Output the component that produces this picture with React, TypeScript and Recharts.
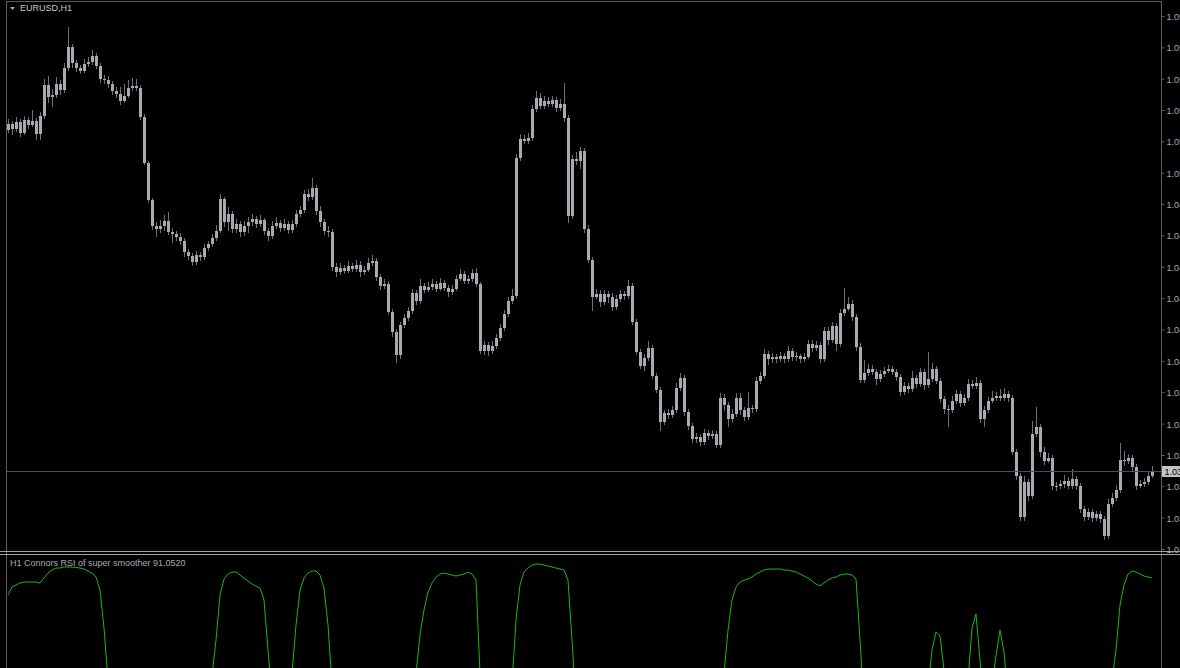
import React from "react";
import { ComposedChart, Bar, Line, XAxis, YAxis } from "recharts";

const SYMBOL = "EURUSD,H1";
const INDICATOR_NAME = "H1 Connors RSI of super smoother 91.0520";

// H1 candles, oldest first
const open = [
  1.05305, 1.05335, 1.0531, 1.05345, 1.0529, 1.05355, 1.0533, 1.0535, 1.05285, 1.05375,
  1.0553, 1.0547, 1.0548, 1.05535, 1.05505, 1.05615, 1.0572, 1.0564, 1.05615, 1.056,
  1.05635, 1.05645, 1.05675, 1.05625, 1.0556, 1.05555, 1.05535, 1.055, 1.05485, 1.0545,
  1.05475, 1.05515, 1.05525, 1.05515, 1.0537, 1.0514, 1.04955, 1.04825, 1.0481, 1.04825,
  1.0485, 1.04795, 1.04785, 1.0477, 1.0475, 1.04695, 1.04675, 1.04645, 1.0468, 1.0467,
  1.04715, 1.04735, 1.04765, 1.048, 1.0496, 1.04845, 1.04885, 1.0481, 1.04835, 1.04795,
  1.04825, 1.04845, 1.0486, 1.04835, 1.04855, 1.048, 1.04775, 1.04825, 1.0484, 1.04815,
  1.04835, 1.04805, 1.04835, 1.04885, 1.04905, 1.04985, 1.0497, 1.05015, 1.049, 1.04845,
  1.048, 1.04795, 1.0462, 1.04595, 1.04615, 1.046, 1.04625, 1.0461, 1.0463, 1.04595,
  1.04605, 1.0464, 1.0465, 1.0457, 1.04525, 1.04535, 1.04395, 1.04295, 1.0418, 1.0433,
  1.04365, 1.044, 1.0449, 1.0445, 1.04525, 1.04505, 1.0452, 1.04535, 1.0451, 1.0454,
  1.04515, 1.04495, 1.0451, 1.0456, 1.04585, 1.0455, 1.0456, 1.0459, 1.04535, 1.042,
  1.0423, 1.042, 1.04225, 1.04265, 1.04315, 1.04385, 1.0445, 1.04475, 1.05165, 1.0526,
  1.0525, 1.05265, 1.0541, 1.05465, 1.05425, 1.0545, 1.05435, 1.05455, 1.05415, 1.05435,
  1.05365, 1.04875, 1.0516, 1.0515, 1.052, 1.0481, 1.04655, 1.0447, 1.04485, 1.04445,
  1.04485, 1.0447, 1.0442, 1.0446, 1.04485, 1.04475, 1.04525, 1.04345, 1.04195, 1.04125,
  1.04165, 1.04215, 1.04075, 1.04005, 1.03845, 1.0389, 1.0388, 1.03905, 1.04015, 1.04065,
  1.03895, 1.03825, 1.0376, 1.0377, 1.03745, 1.0379, 1.03775, 1.03785, 1.0373, 1.03965,
  1.0393, 1.0386, 1.03885, 1.03965, 1.03905, 1.0387, 1.03915, 1.0391, 1.0405, 1.04075,
  1.04185, 1.0416, 1.0417, 1.0416, 1.04175, 1.0416, 1.042, 1.0417, 1.04175, 1.0416,
  1.0417, 1.04235, 1.04215, 1.0423, 1.0416, 1.043, 1.04255, 1.04325, 1.04235, 1.0439,
  1.0441, 1.04435, 1.0437, 1.0422, 1.04055, 1.0409, 1.0411, 1.04095, 1.0406, 1.04085,
  1.041, 1.0411, 1.04095, 1.0407, 1.03995, 1.04025, 1.0401, 1.04065, 1.04035, 1.04095,
  1.0403, 1.0406, 1.0411, 1.0405, 1.0396, 1.0391, 1.03905, 1.0395, 1.03985, 1.0394,
  1.03965, 1.04035, 1.04025, 1.0404, 1.0386, 1.03905, 1.0395, 1.03965, 1.03975, 1.03965,
  1.03985, 1.03965, 1.03695, 1.03575, 1.0337, 1.03545, 1.03475, 1.03785, 1.0382, 1.03695,
  1.0365, 1.03665, 1.03525, 1.03525, 1.03535, 1.0355, 1.03525, 1.0356, 1.03525, 1.0341,
  1.0337, 1.03395, 1.03365, 1.03385, 1.0336, 1.03275, 1.03435, 1.03465, 1.03505, 1.03655,
  1.0365, 1.03665, 1.0362, 1.03525, 1.03535, 1.03545, 1.03575,
];
const high = [
  1.0536, 1.0535, 1.0537, 1.0536, 1.05375, 1.0537, 1.05405, 1.05365, 1.05395, 1.0556,
  1.05575, 1.0551, 1.0557, 1.05555, 1.0564, 1.0582, 1.05735, 1.05655, 1.0563, 1.0566,
  1.0567, 1.05705, 1.0569, 1.0564, 1.0558, 1.05575, 1.0555, 1.0552, 1.0552, 1.05535,
  1.05555, 1.05565, 1.0556, 1.0553, 1.05385, 1.0515, 1.04965, 1.04845, 1.04855, 1.0488,
  1.04895, 1.04815, 1.048, 1.0479, 1.04765, 1.0471, 1.0469, 1.047, 1.04695, 1.04735,
  1.0475, 1.04785, 1.0483, 1.04985, 1.0497, 1.0492, 1.049, 1.0486, 1.0485, 1.0485,
  1.0487, 1.04885, 1.04875, 1.0488, 1.04865, 1.04815, 1.0485, 1.0487, 1.04855, 1.0486,
  1.0485, 1.04855, 1.04905, 1.04925, 1.05005, 1.0501, 1.05065, 1.0503, 1.04925, 1.0486,
  1.04825, 1.0481, 1.0464, 1.0464, 1.0463, 1.0465, 1.0464, 1.04655, 1.0465, 1.04625,
  1.04665, 1.0468, 1.04665, 1.04585, 1.0456, 1.0455, 1.0441, 1.0431, 1.04345, 1.04385,
  1.0442, 1.0451, 1.04505, 1.0456, 1.0454, 1.04545, 1.0456, 1.0455, 1.04565, 1.04555,
  1.0453, 1.0453, 1.0458, 1.0461, 1.046, 1.0458, 1.0461, 1.04615, 1.04545, 1.0425,
  1.04245, 1.0425, 1.04285, 1.04335, 1.04405, 1.0447, 1.0451, 1.05185, 1.05285, 1.0528,
  1.0529, 1.0543, 1.055, 1.0549, 1.05475, 1.0547, 1.05475, 1.0547, 1.0546, 1.0554,
  1.0538, 1.0518, 1.05195, 1.0522, 1.05215, 1.0483, 1.0467, 1.0451, 1.04505, 1.04505,
  1.045, 1.0449, 1.0448, 1.04505, 1.045, 1.04555, 1.0454, 1.0436, 1.0421, 1.04185,
  1.0425, 1.0423, 1.0409, 1.0402, 1.03905, 1.0391, 1.03925, 1.0404, 1.0409, 1.0408,
  1.0391, 1.0384, 1.0379, 1.03785, 1.0381, 1.03805, 1.03805, 1.038, 1.0399, 1.03985,
  1.03945, 1.0391, 1.0399, 1.0399, 1.0392, 1.03995, 1.0393, 1.0407, 1.04095, 1.0421,
  1.042, 1.0419, 1.04185, 1.04195, 1.0419, 1.04225, 1.04215, 1.04195, 1.04185, 1.0419,
  1.04255, 1.04255, 1.0425, 1.04245, 1.0432, 1.0432, 1.04345, 1.0434, 1.0441, 1.04515,
  1.0447, 1.04455, 1.04385, 1.0424, 1.04155, 1.04135, 1.0413, 1.0411, 1.04105, 1.0412,
  1.0413, 1.04125, 1.0411, 1.04085, 1.04045, 1.0404, 1.041, 1.0408, 1.04115, 1.0411,
  1.04195, 1.0414, 1.04125, 1.04065, 1.03975, 1.0393, 1.03975, 1.04005, 1.04, 1.03985,
  1.0406, 1.04055, 1.0407, 1.04055, 1.03925, 1.0397, 1.04, 1.03995, 1.0401, 1.04015,
  1.04, 1.0398, 1.0371, 1.0359, 1.03575, 1.0356, 1.0385, 1.0392, 1.03835, 1.0372,
  1.0369, 1.0368, 1.03545, 1.03555, 1.0358, 1.0357, 1.0361, 1.03575, 1.0354, 1.03425,
  1.03415, 1.0341, 1.034, 1.034, 1.03375, 1.0346, 1.0349, 1.0353, 1.0374, 1.037,
  1.03685, 1.0368, 1.03635, 1.03555, 1.03565, 1.03595, 1.03625,
];
const low = [
  1.0529, 1.0528, 1.05295, 1.0527, 1.0528, 1.0531, 1.0532, 1.05255, 1.05255, 1.0536,
  1.0544, 1.0542, 1.05465, 1.0548, 1.0549, 1.056, 1.05615, 1.05595, 1.05585, 1.0559,
  1.0562, 1.0563, 1.0561, 1.0554, 1.05535, 1.05515, 1.0548, 1.05465, 1.0543, 1.0544,
  1.05465, 1.055, 1.055, 1.05355, 1.0513, 1.0494, 1.04805, 1.0477, 1.0479, 1.048,
  1.0478, 1.0474, 1.0475, 1.0473, 1.0467, 1.04655, 1.04625, 1.0463, 1.0465, 1.04655,
  1.047, 1.0472, 1.0475, 1.0479, 1.0482, 1.048, 1.0479, 1.0479, 1.0477, 1.04775,
  1.0479, 1.04825, 1.04815, 1.0482, 1.0478, 1.0475, 1.0476, 1.0481, 1.04795, 1.048,
  1.04785, 1.0479, 1.0482, 1.0487, 1.0489, 1.0495, 1.04955, 1.0488, 1.0482, 1.0478,
  1.0477, 1.046, 1.0457, 1.0458, 1.04585, 1.0459, 1.04595, 1.04595, 1.0457, 1.0458,
  1.04595, 1.04625, 1.0455, 1.04505, 1.0451, 1.0438, 1.0427, 1.0414, 1.0416, 1.04315,
  1.0435, 1.04385, 1.0443, 1.04435, 1.0449, 1.04495, 1.04505, 1.04495, 1.045, 1.045,
  1.0447, 1.0448, 1.045, 1.0455, 1.04535, 1.04535, 1.04545, 1.0452, 1.04185, 1.0418,
  1.04175, 1.04185, 1.0421, 1.0425, 1.043, 1.0437, 1.04435, 1.0446, 1.0515, 1.05235,
  1.05235, 1.0525, 1.05395, 1.0541, 1.0541, 1.0542, 1.0542, 1.05395, 1.054, 1.05345,
  1.0484, 1.0486, 1.0513, 1.0511, 1.0479, 1.0464, 1.044, 1.0446, 1.0442, 1.0443,
  1.0444, 1.044, 1.04405, 1.04445, 1.04455, 1.0446, 1.0433, 1.0418, 1.0411, 1.041,
  1.0415, 1.0406, 1.0399, 1.038, 1.0383, 1.0386, 1.03865, 1.0389, 1.04, 1.03875,
  1.03805, 1.0374, 1.0374, 1.03725, 1.0373, 1.03755, 1.0376, 1.03715, 1.03715, 1.039,
  1.0382, 1.0384, 1.0387, 1.0388, 1.0385, 1.03855, 1.0389, 1.03895, 1.04035, 1.0406,
  1.0413, 1.0414, 1.0414, 1.04145, 1.0414, 1.04145, 1.0415, 1.0415, 1.0414, 1.04145,
  1.0416, 1.04195, 1.042, 1.0414, 1.04145, 1.0423, 1.0424, 1.042, 1.0422, 1.04375,
  1.044, 1.0435, 1.042, 1.0404, 1.0404, 1.04075, 1.0408, 1.0403, 1.04045, 1.0407,
  1.0409, 1.0408, 1.0405, 1.03975, 1.0398, 1.0399, 1.03995, 1.04015, 1.0402, 1.04005,
  1.04015, 1.04045, 1.04035, 1.0394, 1.03885, 1.0382, 1.0389, 1.03935, 1.0392, 1.03925,
  1.0395, 1.0401, 1.0401, 1.0384, 1.0382, 1.0389, 1.0394, 1.0395, 1.0395, 1.0395,
  1.03945, 1.0368, 1.03555, 1.0335, 1.0335, 1.0345, 1.0346, 1.0377, 1.0367, 1.0363,
  1.0364, 1.03505, 1.035, 1.0351, 1.03515, 1.0351, 1.0351, 1.03505, 1.0339, 1.0335,
  1.03355, 1.03345, 1.0335, 1.0334, 1.03255, 1.0326, 1.0342, 1.0345, 1.0349, 1.03625,
  1.03635, 1.036, 1.03505, 1.03515, 1.0352, 1.0353, 1.03565,
];
const close = [
  1.05335, 1.0531, 1.05345, 1.0529, 1.05355, 1.0533, 1.0535, 1.05285, 1.05375, 1.0553,
  1.0547, 1.0548, 1.05535, 1.05505, 1.05615, 1.0572, 1.0564, 1.05615, 1.056, 1.05635,
  1.05645, 1.05675, 1.05625, 1.0556, 1.05555, 1.05535, 1.055, 1.05485, 1.0545, 1.05475,
  1.05515, 1.05525, 1.05515, 1.0537, 1.0514, 1.04955, 1.04825, 1.0481, 1.04825, 1.0485,
  1.04795, 1.04785, 1.0477, 1.0475, 1.04695, 1.04675, 1.04645, 1.0468, 1.0467, 1.04715,
  1.04735, 1.04765, 1.048, 1.0496, 1.04845, 1.04885, 1.0481, 1.04835, 1.04795, 1.04825,
  1.04845, 1.0486, 1.04835, 1.04855, 1.048, 1.04775, 1.04825, 1.0484, 1.04815, 1.04835,
  1.04805, 1.04835, 1.04885, 1.04905, 1.04985, 1.0497, 1.05015, 1.049, 1.04845, 1.048,
  1.04795, 1.0462, 1.04595, 1.04615, 1.046, 1.04625, 1.0461, 1.0463, 1.04595, 1.04605,
  1.0464, 1.0465, 1.0457, 1.04525, 1.04535, 1.04395, 1.04295, 1.0418, 1.0433, 1.04365,
  1.044, 1.0449, 1.0445, 1.04525, 1.04505, 1.0452, 1.04535, 1.0451, 1.0454, 1.04515,
  1.04495, 1.0451, 1.0456, 1.04585, 1.0455, 1.0456, 1.0459, 1.04535, 1.042, 1.0423,
  1.042, 1.04225, 1.04265, 1.04315, 1.04385, 1.0445, 1.04475, 1.05165, 1.0526, 1.0525,
  1.05265, 1.0541, 1.05465, 1.05425, 1.0545, 1.05435, 1.05455, 1.05415, 1.05435, 1.05365,
  1.04875, 1.0516, 1.0515, 1.052, 1.0481, 1.04655, 1.0447, 1.04485, 1.04445, 1.04485,
  1.0447, 1.0442, 1.0446, 1.04485, 1.04475, 1.04525, 1.04345, 1.04195, 1.04125, 1.04165,
  1.04215, 1.04075, 1.04005, 1.03845, 1.0389, 1.0388, 1.03905, 1.04015, 1.04065, 1.03895,
  1.03825, 1.0376, 1.0377, 1.03745, 1.0379, 1.03775, 1.03785, 1.0373, 1.03965, 1.0393,
  1.0386, 1.03885, 1.03965, 1.03905, 1.0387, 1.03915, 1.0391, 1.0405, 1.04075, 1.04185,
  1.0416, 1.0417, 1.0416, 1.04175, 1.0416, 1.042, 1.0417, 1.04175, 1.0416, 1.0417,
  1.04235, 1.04215, 1.0423, 1.0416, 1.043, 1.04255, 1.04325, 1.04235, 1.0439, 1.0441,
  1.04435, 1.0437, 1.0422, 1.04055, 1.0409, 1.0411, 1.04095, 1.0406, 1.04085, 1.041,
  1.0411, 1.04095, 1.0407, 1.03995, 1.04025, 1.0401, 1.04065, 1.04035, 1.04095, 1.0403,
  1.0406, 1.0411, 1.0405, 1.0396, 1.0391, 1.03905, 1.0395, 1.03985, 1.0394, 1.03965,
  1.04035, 1.04025, 1.0404, 1.0386, 1.03905, 1.0395, 1.03965, 1.03975, 1.03965, 1.03985,
  1.03965, 1.03695, 1.03575, 1.0337, 1.03545, 1.03475, 1.03785, 1.0382, 1.03695, 1.0365,
  1.03665, 1.03525, 1.03525, 1.03535, 1.0355, 1.03525, 1.0356, 1.03525, 1.0341, 1.0337,
  1.03395, 1.03365, 1.03385, 1.0336, 1.03275, 1.03435, 1.03465, 1.03505, 1.03655, 1.0365,
  1.03665, 1.0362, 1.03525, 1.03535, 1.03545, 1.03575, 1.036,
];

// Connors RSI of super smoother, one value per candle
const crsi = [
  84.5, 88.5, 89.5, 90.5, 91, 91, 91, 91, 90.5, 93,
  95.5, 97, 98, 98, 98.5, 98.5, 98.5, 98.3, 98, 97.5,
  96.5, 95.5, 93.5, 87, 68, 42, 30, 22, 18, 15,
  14, 16, 20, 24, 15, 8, 5, 4, 6, 9,
  12, 10, 8, 7, 6, 9, 12, 15, 18, 24,
  32, 44, 62, 84.5, 92.5, 95, 96, 96, 94.5, 93,
  91.5, 90, 89, 88, 82, 57, 35, 28, 26, 30,
  36, 45, 69.5, 87, 93, 95.5, 96.5, 96.5, 94.5, 88,
  69.5, 40, 28, 22, 20, 22, 24, 26, 25, 24,
  28, 30, 24, 18, 16, 10, 6, 4, 8, 14,
  22, 30, 45, 64.5, 77, 86, 90.5, 93.5, 95, 95.5,
  95, 94.5, 94, 94.5, 95, 96, 95, 92, 45, 20,
  14, 10, 12, 16, 22, 30, 40, 72, 89.5, 96,
  98, 99.5, 100, 100, 99.5, 99, 98.5, 98, 97.5, 97,
  92, 62, 30, 22, 18, 14, 10, 8, 9, 11,
  14, 16, 18, 20, 22, 18, 12, 8, 5, 4,
  6, 5, 4, 3, 4, 6, 9, 12, 10, 8,
  7, 6, 5, 6, 9, 14, 20, 28, 36, 45,
  67, 82, 88.5, 91, 92, 92.5, 93.5, 95, 96, 97,
  97.5, 97.5, 97.5, 97.5, 97, 97, 96.5, 96, 95, 94,
  93, 91.5, 90, 89, 90.5, 92, 93, 93.5, 94.5, 95,
  95, 94.5, 92.5, 62, 30, 24, 20, 16, 14, 12,
  14, 18, 22, 16, 12, 14, 18, 22, 26, 30,
  38, 57, 66, 64, 47, 30, 22, 18, 20, 28,
  42, 68, 75, 52, 30, 28, 40, 54, 67, 56,
  32, 20, 12, 6, 4, 8, 14, 18, 16, 12,
  10, 9, 10, 12, 14, 12, 9, 6, 4, 3,
  2, 3, 6, 12, 20, 30, 42, 57, 79.5, 89.5,
  95, 96.5, 96, 95, 94, 93.5, 93,
];

const priceTicks = [
  1.05875, 1.05718, 1.05562, 1.05405, 1.05248, 1.05091, 1.04935, 1.04778, 1.04621,
  1.04464, 1.04308, 1.04151, 1.03994, 1.03837, 1.0368, 1.03524, 1.03367, 1.0321,
];
const lastPrice = 1.036;
const priceDomain = [1.032, 1.05945];
const crsiDomain = [0, 104.52];
const crsiTicks = [104.52];

const data = close.map((c, i) => ({
  i,
  open: open[i],
  high: high[i],
  low: low[i],
  close: c,
  crsi: crsi[i],
}));

const W = 1180;
const AXIS_X = 1161.5;
const BG = "#000000";
const FRAME = "#5c5c66";
const TEXT = "#a8a8b4";
const BODY = "#a9a9b1";
const WICK = "#6f6f79";
const GREEN = "#17b817";
const FONT = "'Liberation Sans', Arial, sans-serif";

const Candle = (props: any) => {
  const { x, y, width, height, payload } = props;
  const top = Math.min(y, y + height);
  const h = Math.abs(height);
  const range = payload.high - payload.low;
  const toPx = (v: number) => (range === 0 ? top : top + ((payload.high - v) / range) * h);
  const oy = toPx(payload.open);
  const cy = toPx(payload.close);
  const left = Math.floor(x);
  const cx = left + 1.5;
  const bTop = Math.round(Math.min(oy, cy));
  const bH = Math.max(1, Math.round(Math.abs(cy - oy)));
  return (
    <g>
      <line x1={cx} x2={cx} y1={top} y2={top + h} stroke={WICK} strokeWidth={1} />
      <rect x={left} y={bTop} width={3} height={bH} fill={BODY} shapeRendering="crispEdges" />
    </g>
  );
};

const PriceTick = (props: any) => {
  const { y, payload } = props;
  if (payload.value === lastPrice) {
    return (
      <g>
        <line x1={6} x2={AXIS_X} y1={y + 0.5} y2={y + 0.5} stroke="#4c4c5c" />
        <rect x={AXIS_X + 0.5} y={y - 5} width={30} height={11} fill="#c4c4c4" />
        <text x={AXIS_X + 3} y={y + 4} fill="#000" fontSize={9} fontFamily={FONT}>
          {payload.value.toFixed(5)}
        </text>
      </g>
    );
  }
  return (
    <g>
      <line x1={AXIS_X} x2={AXIS_X + 3} y1={y + 0.5} y2={y + 0.5} stroke={FRAME} />
      <text x={AXIS_X + 5} y={y + 4} fill={TEXT} fontSize={9} fontFamily={FONT}>
        {payload.value.toFixed(5)}
      </text>
    </g>
  );
};

const CrsiTick = (props: any) => {
  const { y, payload } = props;
  return (
    <text x={AXIS_X + 5} y={y + 10} fill={TEXT} fontSize={9} fontFamily={FONT}>
      {payload.value.toFixed(4)}
    </text>
  );
};

export default function App() {
  return (
    <div
      style={{
        position: "absolute",
        left: 0,
        top: 0,
        width: W,
        height: 668,
        overflow: "hidden",
        background: BG,
      }}
    >
      <div style={{ position: "absolute", left: 0, top: 0 }}>
        <ComposedChart width={W} height={553} data={data} margin={{ top: 2, right: 0, bottom: 2, left: 6 }}>
          <XAxis dataKey="i" type="category" scale="band" hide />
          <YAxis
            orientation="right"
            width={26}
            domain={priceDomain}
            allowDataOverflow
            ticks={[...priceTicks, lastPrice]}
            interval={0}
            axisLine={false}
            tickLine={false}
            tick={<PriceTick />}
          />
          <Bar
            dataKey={(d: any) => [d.low, d.high]}
            barSize={3}
            shape={<Candle />}
            isAnimationActive={false}
          />
        </ComposedChart>
      </div>
      <div style={{ position: "absolute", left: 0, top: 555 }}>
        <ComposedChart width={W} height={209} data={data} margin={{ top: 0, right: 0, bottom: 0, left: 6 }}>
          <XAxis dataKey="i" type="category" scale="band" hide />
          <YAxis
            orientation="right"
            width={26}
            domain={crsiDomain}
            allowDataOverflow
            ticks={crsiTicks}
            axisLine={false}
            tickLine={false}
            tick={<CrsiTick />}
          />
          <Line
            dataKey="crsi"
            type="linear"
            stroke={GREEN}
            strokeWidth={1}
            dot={false}
            isAnimationActive={false}
          />
        </ComposedChart>
      </div>
      <svg width={W} height={668} style={{ position: "absolute", left: 0, top: 0, pointerEvents: "none" }}>
        <line x1={6.5} x2={6.5} y1={1} y2={668} stroke={FRAME} />
        <line x1={6} x2={AXIS_X} y1={1.5} y2={1.5} stroke={FRAME} />
        <line x1={AXIS_X} x2={AXIS_X} y1={1} y2={668} stroke={FRAME} />
        <line x1={0} x2={W} y1={551.5} y2={551.5} stroke="#a4a4a8" />
        <line x1={0} x2={W} y1={554.5} y2={554.5} stroke="#a4a4a8" />
        <polygon points="10,7 15,7 12.5,10" fill={TEXT} />
        <text x={20} y={11} fill="#c4c4cc" fontSize={9} fontFamily={FONT}>
          {SYMBOL}
        </text>
        <text x={10} y={566} fill={TEXT} fontSize={9} fontFamily={FONT}>
          {INDICATOR_NAME}
        </text>
      </svg>
    </div>
  );
}
